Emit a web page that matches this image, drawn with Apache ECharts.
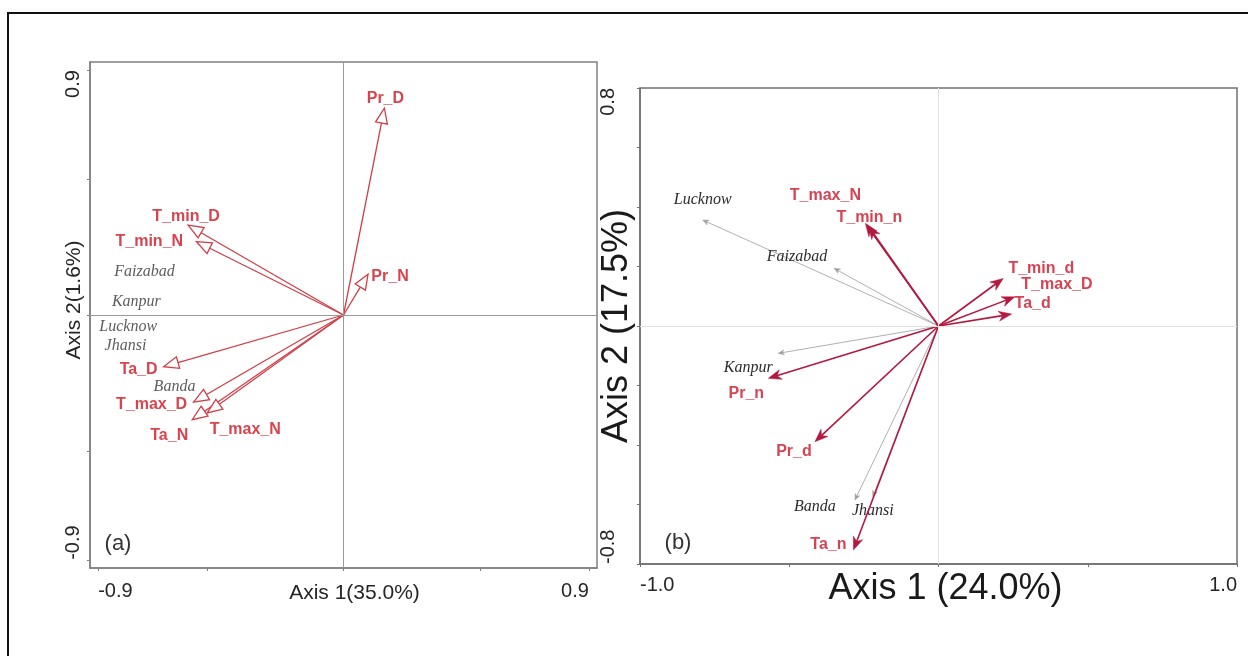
<!DOCTYPE html>
<html>
<head>
<meta charset="utf-8">
<script src="https://cdn.jsdelivr.net/npm/echarts@6/dist/echarts.min.js"></script>
<style>
html, body { margin: 0; padding: 0; background: #fff; }
#chart { width: 1248px; height: 656px; }
</style>
</head>
<body>
<div id="chart"></div>
<script>
// (a) variables, scores on axis 1 / axis 2
var namesA = ['Pr_D', 'Pr_N', 'T_min_D', 'T_min_N', 'Ta_D', 'T_max_D', 'Ta_N', 'T_max_N'];
var axis1A = [0.15, 0.09, -0.57, -0.54, -0.66, -0.55, -0.555, -0.50];
var axis2A = [0.76, 0.15, 0.33, 0.27, -0.19, -0.32, -0.385, -0.36];
// (a) sites
var sitesA = ['Faizabad', 'Kanpur', 'Lucknow', 'Jhansi', 'Banda'];
var siteAxis1A = [-0.73, -0.76, -0.79, -0.80, -0.62];
var siteAxis2A = [0.16, 0.05, -0.045, -0.115, -0.265];
var ticksA = [-0.9, -0.5, 0, 0.5, 0.9];
var tickLabelsA = [-0.9, 0.9];

// (b) variables
var namesB = ['T_max_N', 'T_min_n', 'T_min_d', 'T_max_D', 'Ta_d', 'Pr_n', 'Pr_d', 'Ta_n'];
var axis1B = [-0.245, -0.235, 0.217, 0.256, 0.245, -0.57, -0.414, -0.285];
var axis2B = [0.345, 0.336, 0.16, 0.098, 0.04, -0.176, -0.389, -0.753];
// (b) sites
var sitesB = ['Lucknow', 'Faizabad', 'Kanpur', 'Banda', 'Jhansi'];
var siteAxis1B = [-0.79, -0.35, -0.537, -0.28, -0.22];
var siteAxis2B = [0.356, 0.194, -0.092, -0.585, -0.574];
var tickLabelsBx = [-1.0, 1.0];
var tickLabelsBy = [-0.8, 0.8];

// label shifts in px from the arrow tip (layout only)
var shiftA = {
  Pr_D: [1, -10], Pr_N: [22, 2], T_min_D: [-2, -9], T_min_N: [-47, 0],
  Ta_D: [-25, 3], T_max_D: [-42, 3], Ta_N: [-23, 16], T_max_N: [38, 17]
};
var shiftB = {
  T_max_N: [-40, -28], T_min_n: [1, -8], T_min_d: [38, -10], T_max_D: [42, -12],
  Ta_d: [21, -11], Pr_n: [-22, 15], Pr_d: [-21, 10], Ta_n: [-25, -5],
  Lucknow: [0, -20], Faizabad: [-37, -11], Kanpur: [-30, 14], Banda: [-40, 7], Jhansi: [0, 14]
};

var SANS = "'Liberation Sans', Arial, sans-serif";
var SERIF = "'Liberation Serif', 'Times New Roman', serif";

function pairs(xs, ys) {
  return xs.map(function (x, i) { return [x, ys[i]]; });
}

// arrow from origin to (x, y) with head and label
function arrows(opt) {
  return function (params, api) {
    var o = api.coord([0, 0]);
    var p = api.coord([api.value(0), api.value(1)]);
    var dx = p[0] - o[0], dy = p[1] - o[1];
    var len = Math.sqrt(dx * dx + dy * dy) || 1;
    var ux = dx / len, uy = dy / len;
    var bx = p[0] - ux * opt.head, by = p[1] - uy * opt.head;
    var w = opt.half;
    var pts;
    if (opt.hollow) {
      pts = [p, [bx - uy * w, by + ux * w], [bx + uy * w, by - ux * w]];
    } else {
      var nx = p[0] - ux * opt.head * 0.7, ny = p[1] - uy * opt.head * 0.7;
      pts = [p, [bx - uy * w, by + ux * w], [nx, ny], [bx + uy * w, by - ux * w]];
    }
    var name = opt.names[params.dataIndex];
    var sh = opt.shift[name] || [0, 0];
    var ex = opt.hollow ? bx : p[0] - ux * opt.head * 0.6;
    var ey = opt.hollow ? by : p[1] - uy * opt.head * 0.6;
    return {
      type: 'group',
      children: [
        { type: 'line', shape: { x1: o[0], y1: o[1], x2: ex, y2: ey },
          style: { stroke: opt.line, lineWidth: opt.width } },
        { type: 'polygon', shape: { points: pts },
          style: { fill: opt.hollow ? '#fff' : opt.line, stroke: opt.line, lineWidth: opt.hollow ? 1.3 : 0.5 } },
        { type: 'text', x: p[0] + sh[0], y: p[1] + sh[1],
          style: { text: name, fill: opt.text, font: opt.font, align: 'center', verticalAlign: 'middle' } }
      ]
    };
  };
}

function fmt(v) { return v.toFixed(1); }

var chart = echarts.init(document.getElementById('chart'));

var option = {
  animation: false,
  backgroundColor: '#fff',
  grid: [
    { left: 90, top: 62, width: 507, height: 506, show: true, borderColor: '#808080', borderWidth: 1.5 },
    { left: 640, top: 88, width: 597, height: 476, show: true, borderColor: '#707070', borderWidth: 1.5 }
  ],
  xAxis: [
    {
      gridIndex: 0, type: 'value', min: -0.93, max: 0.93,
      name: 'Axis 1(35.0%)', nameLocation: 'middle', nameGap: 15, nameMoveOverlap: false,
      nameTextStyle: { fontFamily: SANS, fontSize: 21, color: '#262626', padding: [0, 0, 0, 22] },
      axisLine: { show: true, onZero: false, lineStyle: { color: '#808080', width: 1.5 } },
      axisTick: { show: true, customValues: ticksA, length: 3, lineStyle: { color: '#808080' } },
      axisLabel: { customValues: tickLabelsA, formatter: fmt, margin: 13, fontFamily: SANS, fontSize: 20,
        color: '#262626', alignMinLabel: 'left', alignMaxLabel: 'right' },
      splitLine: { show: false }
    },
    {
      gridIndex: 1, type: 'value', min: -1, max: 1, interval: 0.5,
      name: 'Axis 1 (24.0%)', nameLocation: 'middle', nameGap: 7, nameMoveOverlap: false,
      nameTextStyle: { fontFamily: SANS, fontSize: 36, color: '#1a1a1a', padding: [0, 0, 0, 14] },
      axisLine: { show: true, onZero: false, lineStyle: { color: '#707070', width: 1.5 } },
      axisTick: { show: true, length: 3, lineStyle: { color: '#707070' } },
      axisLabel: { customValues: tickLabelsBx, formatter: fmt, margin: 11, fontFamily: SANS, fontSize: 20,
        color: '#262626', alignMinLabel: 'left', alignMaxLabel: 'right' },
      splitLine: { show: false }
    }
  ],
  yAxis: [
    {
      gridIndex: 0, type: 'value', min: -0.93, max: 0.93,
      name: 'Axis 2(1.6%)', nameLocation: 'middle', nameGap: 5, nameMoveOverlap: false,
      nameTextStyle: { fontFamily: SANS, fontSize: 21, color: '#262626', padding: [0, 0, 0, 30] },
      axisLine: { show: true, onZero: false, lineStyle: { color: '#808080', width: 1.5 } },
      axisTick: { show: true, customValues: ticksA, length: 3, lineStyle: { color: '#808080' } },
      axisLabel: { customValues: tickLabelsA, formatter: fmt, rotate: 90, margin: 7, fontFamily: SANS, fontSize: 20,
        color: '#262626', alignMinLabel: 'left', alignMaxLabel: 'right' },
      splitLine: { show: false }
    },
    {
      gridIndex: 1, type: 'value', min: -0.8, max: 0.8, interval: 0.2,
      name: 'Axis 2 (17.5%)', nameLocation: 'middle', nameGap: 5, nameMoveOverlap: false,
      nameTextStyle: { fontFamily: SANS, fontSize: 36, color: '#1a1a1a' },
      axisLine: { show: true, onZero: false, lineStyle: { color: '#707070', width: 1.5 } },
      axisTick: { show: true, length: 3, lineStyle: { color: '#707070' } },
      axisLabel: { customValues: tickLabelsBy, formatter: fmt, rotate: 90, margin: 22, fontFamily: SANS, fontSize: 20,
        color: '#262626', alignMinLabel: 'left', alignMaxLabel: 'right' },
      splitLine: { show: false }
    }
  ],
  graphic: [
    { type: 'rect', shape: { x: 8, y: 13, width: 1300, height: 720 },
      style: { fill: 'none', stroke: '#111', lineWidth: 2 }, silent: true },
    { type: 'text', x: 118, y: 544, style: { text: '(a)', font: '22px ' + SANS, fill: '#333',
      align: 'center', verticalAlign: 'middle' } },
    { type: 'text', x: 678, y: 543, style: { text: '(b)', font: '22px ' + SANS, fill: '#333',
      align: 'center', verticalAlign: 'middle' } }
  ],
  series: [
    {
      type: 'scatter', xAxisIndex: 0, yAxisIndex: 0, z: 2, symbolSize: 0, silent: true,
      data: sitesA.map(function (n, i) { return { name: n, value: [siteAxis1A[i], siteAxis2A[i]] }; }),
      label: { show: true, position: 'inside', formatter: '{b}', fontFamily: SERIF, fontStyle: 'italic',
        fontSize: 16, color: '#333' },
      markLine: { silent: true, symbol: 'none', label: { show: false },
        lineStyle: { color: '#9a9a9a', width: 1, type: 'solid' },
        data: [{ xAxis: 0 }, { yAxis: 0 }] }
    },
    {
      type: 'custom', xAxisIndex: 0, yAxisIndex: 0, z: 3, silent: true,
      data: pairs(axis1A, axis2A),
      renderItem: arrows({ names: namesA, shift: shiftA, hollow: true, head: 15, half: 6,
        line: '#cf3f48', width: 1.3, text: '#d8434d', font: 'bold 16px ' + SANS })
    },
    {
      type: 'custom', xAxisIndex: 1, yAxisIndex: 1, z: 2, silent: true,
      data: pairs(siteAxis1B, siteAxis2B),
      renderItem: arrows({ names: sitesB, shift: shiftB, hollow: false, head: 6, half: 2.5,
        line: '#9c9c9c', width: 0.8, text: '#2b2b2b', font: 'italic 16px ' + SERIF }),
      markLine: { silent: true, symbol: 'none', label: { show: false },
        lineStyle: { color: '#e2e2e2', width: 1, type: 'solid' },
        data: [{ xAxis: 0 }, { yAxis: 0 }] }
    },
    {
      type: 'custom', xAxisIndex: 1, yAxisIndex: 1, z: 3, silent: true,
      data: pairs(axis1B, axis2B),
      renderItem: arrows({ names: namesB, shift: shiftB, hollow: false, head: 13, half: 5,
        line: '#b3183f', width: 1.6, text: '#d64352', font: 'bold 16px ' + SANS })
    }
  ]
};

chart.setOption(option);
</script>
</body>
</html>
